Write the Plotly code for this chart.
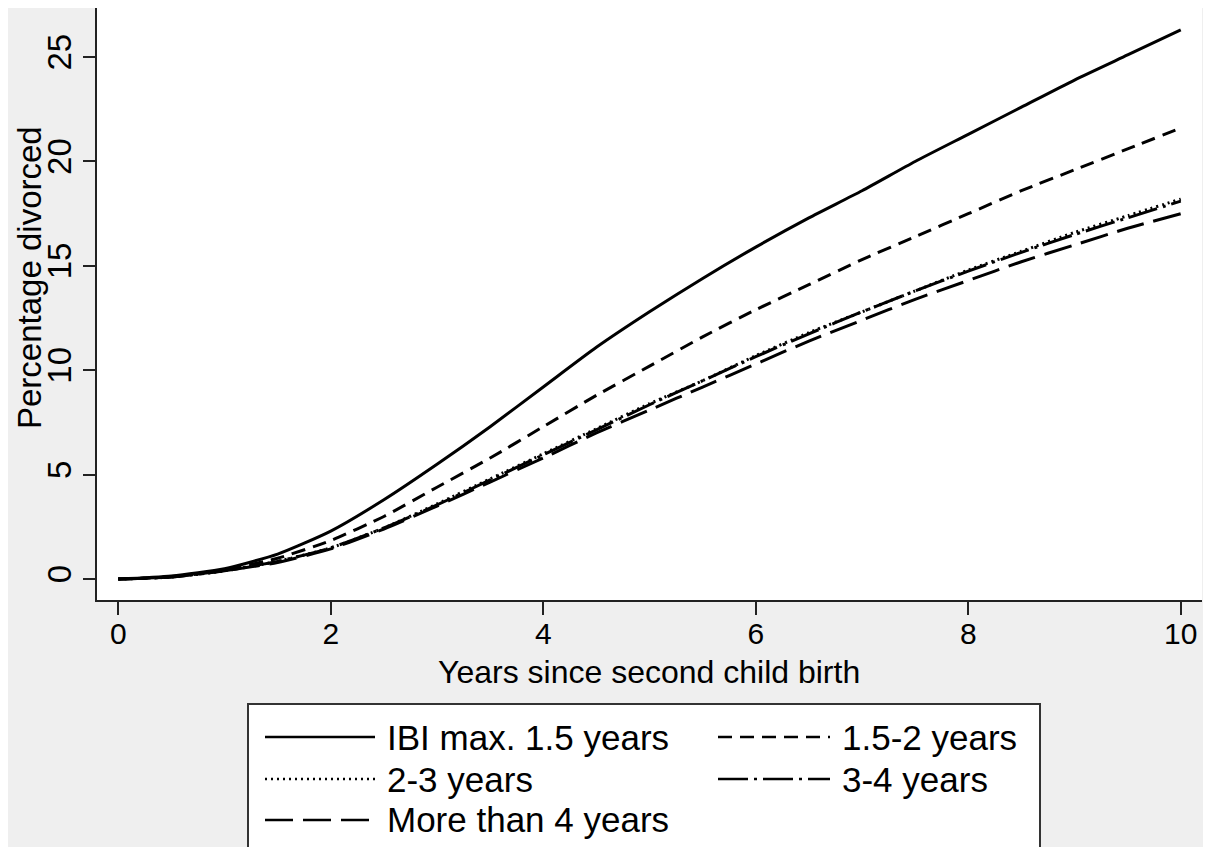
import plotly.graph_objects as go

# ---- data ----
years = [0, 0.5, 1, 1.5, 2, 2.5, 3, 3.5, 4, 4.5, 5, 5.5, 6, 6.5, 7, 7.5, 8, 8.5, 9, 9.5, 10]

ibi_max_15 = [0, 0.15, 0.5, 1.2, 2.3, 3.8, 5.5, 7.3, 9.2, 11.1, 12.8, 14.4, 15.9, 17.3, 18.6, 20.0, 21.3, 22.6, 23.9, 25.1, 26.3]
ibi_15_2 = [0, 0.12, 0.45, 1.0, 1.85, 3.0, 4.4, 5.8, 7.3, 8.8, 10.2, 11.6, 12.9, 14.1, 15.3, 16.4, 17.5, 18.6, 19.6, 20.6, 21.6]
ibi_2_3 = [0, 0.1, 0.4, 0.85, 1.5, 2.45, 3.6, 4.8, 6.0, 7.2, 8.4, 9.5, 10.7, 11.8, 12.8, 13.8, 14.8, 15.7, 16.6, 17.4, 18.2]
ibi_3_4 = [0, 0.1, 0.4, 0.85, 1.5, 2.45, 3.55, 4.75, 5.95, 7.15, 8.35, 9.5, 10.65, 11.75, 12.8, 13.8, 14.75, 15.65, 16.5, 17.3, 18.1]
ibi_4_plus = [0, 0.1, 0.4, 0.8, 1.45, 2.4, 3.5, 4.65, 5.8, 7.0, 8.1, 9.2, 10.3, 11.4, 12.4, 13.4, 14.3, 15.2, 16.0, 16.8, 17.5]

series_names = ["IBI max. 1.5 years", "1.5-2 years", "2-3 years", "3-4 years", "More than 4 years"]
series_values = [ibi_max_15, ibi_15_2, ibi_2_3, ibi_3_4, ibi_4_plus]
series_dashes = ["solid", "14px,8px", "2px,4px", "30px,6px,3px,6px", "28px,10px"]

x_ticks = [0, 2, 4, 6, 8, 10]
y_ticks = [0, 5, 10, 15, 20, 25]

x_title = "Years since second child birth"
y_title = "Percentage divorced"

FONT = "Liberation Sans, Arial, sans-serif"
BG = "rgb(239,239,239)"

fig = go.Figure()
for name, vals, dash in zip(series_names, series_values, series_dashes):
    fig.add_trace(go.Scatter(
        x=years, y=vals, name=name, mode="lines",
        line=dict(color="black", width=3, dash=dash, shape="spline", smoothing=0.6),
        showlegend=False,
    ))

# ---- layout geometry (page offset of 8px from the html body margin) ----
W, H = 1211, 847
OFF = 8
ml, mt = 97 - OFF, 8 - OFF
mr = W - (1202 - OFF)
mb = H - (600 - OFF)
pw, ph = W - ml - mr, H - mt - mb


def px(x):
    return (x - OFF - ml) / pw


def py(y):
    return (H - mb - (y - OFF)) / ph


shapes = [dict(type="rect", xref="paper", yref="paper",
               x0=px(248), x1=px(1040), y0=py(880), y1=py(704),
               fillcolor="white", line=dict(color="#333333", width=2), layer="above")]
annotations = []
rows = [737, 779, 820]
cols = [(265, 375, 385), (718, 830, 840)]
for i, (name, dash) in enumerate(zip(series_names, series_dashes)):
    r, c = divmod(i, 2)
    lx0, lx1, tx = cols[c]
    yy = rows[r]
    shapes.append(dict(type="line", xref="paper", yref="paper",
                       x0=px(lx0), x1=px(lx1), y0=py(yy), y1=py(yy),
                       line=dict(color="black", width=2.5, dash=dash), layer="above"))
    annotations.append(dict(xref="paper", yref="paper", x=px(tx), y=py(yy),
                            text=name, showarrow=False, xanchor="left", yanchor="middle",
                            font=dict(family=FONT, size=35, color="black")))

# axis titles placed as annotations
annotations.append(dict(xref="paper", yref="paper", x=px(649), y=py(672),
                        text=x_title, showarrow=False, xanchor="center", yanchor="middle",
                        font=dict(family=FONT, size=32, color="black")))
annotations.append(dict(xref="paper", yref="paper", x=px(30), y=py(278),
                        text=y_title, showarrow=False, xanchor="center", yanchor="middle",
                        textangle=-90,
                        font=dict(family=FONT, size=33, color="black")))

fig.update_layout(
    width=W, height=H,
    margin=dict(l=ml, r=mr, t=mt, b=mb, autoexpand=False),
    paper_bgcolor=BG, plot_bgcolor="white",
    shapes=shapes, annotations=annotations,
    showlegend=False,
)
fig.update_xaxes(
    automargin=False,
    range=[-0.2, 10.2], tickvals=x_ticks, ticktext=[str(v) for v in x_ticks],
    showgrid=False, zeroline=False, showline=True, linecolor="#222222", linewidth=2,
    ticks="outside", ticklen=13, tickwidth=1.5, tickcolor="#222222",
    ticklabelstandoff=-7,
    tickfont=dict(family=FONT, size=30, color="black"),
)
fig.update_yaxes(
    automargin=False,
    range=[-1, 27.35], tickvals=y_ticks, ticktext=[str(v) for v in y_ticks],
    showgrid=False, zeroline=False, showline=True, linecolor="#222222", linewidth=2,
    ticks="outside", ticklen=12, tickwidth=1.5, tickcolor="#222222", tickangle=-90,
    ticklabelstandoff=-1,
    tickfont=dict(family=FONT, size=33, color="black"),
)

fig.write_html("out.html")
